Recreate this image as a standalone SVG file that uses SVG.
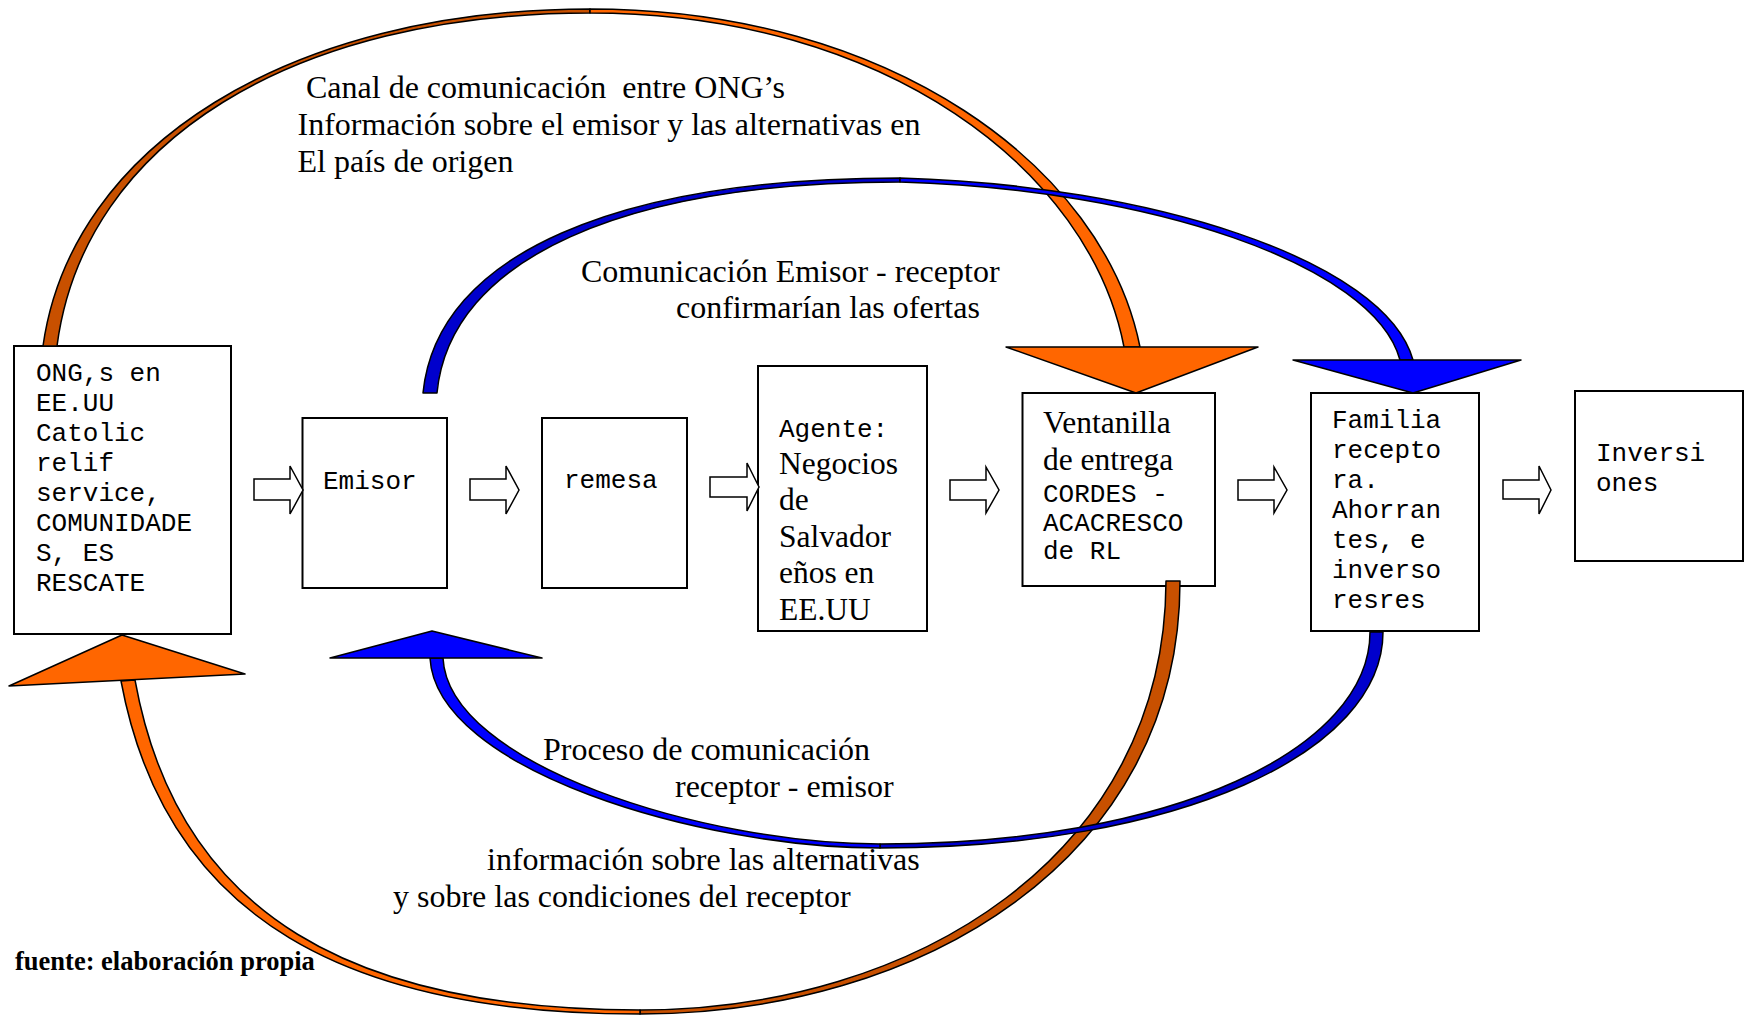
<svg xmlns="http://www.w3.org/2000/svg" width="1751" height="1016" viewBox="0 0 1751 1016">
<style>
.box{fill:#fff;stroke:#000;stroke-width:2}
.mono{font-family:"Liberation Mono","Courier New",monospace;font-size:26px;fill:#000}
.serif{font-family:"Liberation Serif","Times New Roman",serif;font-size:32px;fill:#000}
.bx{font-family:"Liberation Serif","Times New Roman",serif;font-size:31.5px;fill:#000}
.bold{font-family:"Liberation Serif","Times New Roman",serif;font-size:26.5px;font-weight:bold;fill:#000}
.blk{fill:#fff;stroke:#000;stroke-width:1.5;stroke-linejoin:miter}
.rib{stroke:#000;stroke-width:1.5;stroke-linejoin:round}
.od{fill:#C85000}.ob{fill:#FF6600}.bd{fill:#0000CC}.bb{fill:#0000FF}
</style>
<rect width="1751" height="1016" fill="#fff"/>

<g id="node-ong">
<rect class="box" x="14" y="346" width="217" height="288"/>
<text class="mono"><tspan x="36" y="381">ONG,s en</tspan><tspan x="36" y="411">EE.UU</tspan><tspan x="36" y="441">Catolic</tspan><tspan x="36" y="471">relif</tspan><tspan x="36" y="501">service,</tspan><tspan x="36" y="531">COMUNIDADE</tspan><tspan x="36" y="561">S, ES</tspan><tspan x="36" y="591">RESCATE</tspan></text>
</g>
<g id="node-emisor">
<rect class="box" x="302.5" y="418" width="144.5" height="170"/>
<text class="mono" x="323" y="489">Emisor</text>
</g>
<g id="node-remesa">
<rect class="box" x="542" y="418" width="145" height="170"/>
<text class="mono" x="564" y="488">remesa</text>
</g>
<g id="node-agente">
<rect class="box" x="758" y="366" width="169" height="265"/>
<text class="mono" x="779" y="437">Agente:</text>
<text class="bx"><tspan x="779" y="473.5">Negocios</tspan><tspan x="779" y="510">de</tspan><tspan x="779" y="546.5">Salvador</tspan><tspan x="779" y="583">eños en</tspan><tspan x="779" y="619.5">EE.UU</tspan></text>
</g>
<g id="node-ventanilla">
<rect class="box" x="1022.5" y="393" width="192.5" height="193"/>
<text class="bx"><tspan x="1043" y="433">Ventanilla</tspan><tspan x="1043" y="470">de entrega</tspan></text>
<text class="mono"><tspan x="1043" y="502">CORDES -</tspan><tspan x="1043" y="531">ACACRESCO</tspan><tspan x="1043" y="559">de RL</tspan></text>
</g>
<g id="node-familia">
<rect class="box" x="1311" y="393" width="168" height="238"/>
<text class="mono"><tspan x="1332" y="428">Familia</tspan><tspan x="1332" y="458">recepto</tspan><tspan x="1332" y="488">ra.</tspan><tspan x="1332" y="518">Ahorran</tspan><tspan x="1332" y="548">tes, e</tspan><tspan x="1332" y="578">inverso</tspan><tspan x="1332" y="608">resres</tspan></text>
</g>
<g id="node-inversiones">
<rect class="box" x="1575" y="391" width="168" height="170"/>
<text class="mono"><tspan x="1596" y="461">Inversi</tspan><tspan x="1596" y="491">ones</tspan></text>
</g>

<g id="connectors">
<path class="blk" d="M254 479 L290 479 L290 466 L303 490 L290 514 L290 500 L254 500 Z"/>
<path class="blk" d="M470 479 L506 479 L506 466 L519 490 L506 514 L506 500 L470 500 Z"/>
<path class="blk" d="M710 477 L747 477 L747 463 L759 487 L747 511 L747 497 L710 497 Z"/>
<path class="blk" d="M950 480 L986 480 L986 467 L999 490 L986 513 L986 500 L950 500 Z"/>
<path class="blk" d="M1238 480 L1274 480 L1274 467 L1287 490 L1274 513 L1274 500 L1238 500 Z"/>
<path class="blk" d="M1503 480 L1539 480 L1539 466 L1551 490 L1539 514 L1539 499 L1503 499 Z"/>

<g id="orange-top">
<path class="rib od" d="M43 346 C71 146 290 9 590 9 L590 13 C295 13 84 140 57 346 Z"/>
<path class="rib ob" d="M590 9 C890 9 1104 167 1140 347 L1124 347 C1090 170 885 13 590 13 Z"/>
<polygon class="rib ob" points="1006,347 1258,347 1136,393"/>
</g>
<g id="orange-bottom">
<path class="rib od" d="M1180 581 C1180 860 920 1014 640 1014 L640 1010 C915 1010 1165 855 1166 581 Z"/>
<path class="rib ob" d="M640 1014 C352 1014 166 922 121 681 L135 680 C178 918 357 1010 640 1010 Z"/>
<polygon class="rib ob" points="9,686 122,635 245,674"/>
</g>
<g id="blue-top">
<path class="rib bd" d="M423 393 C437 253 620 178 900 178 L900 182 C625 182 450 258 437 393 Z"/>
<path class="rib bb" d="M900 178 C1150 185 1385 260 1413 360 L1400 360 C1374 264 1148 189 900 182 Z"/>
<polygon class="rib bb" points="1293,360 1521,360 1413,393"/>
</g>
<g id="blue-bottom">
<path class="rib bd" d="M1383 632 C1383 752 1180 848 880 848 L880 844 C1175 844 1370 748 1370 632 Z"/>
<path class="rib bb" d="M880 848 C700 848 436 770 430 658 L443 658 C448 765 705 844 880 844 Z"/>
<polygon class="rib bb" points="330,658 432,631 542,658"/>
</g>
</g>

<g id="labels">
<text class="serif" x="306" y="97.5" style="white-space:pre">Canal de comunicación  entre ONG’s</text>
<text class="serif" x="297.5" y="135">Información sobre el emisor y las alternativas en</text>
<text class="serif" x="297.5" y="172">El país de origen</text>
<text class="serif" x="581" y="282">Comunicación Emisor - receptor</text>
<text class="serif" x="676" y="318">confirmarían las ofertas</text>
<text class="serif" x="543" y="760">Proceso de comunicación</text>
<text class="serif" x="675" y="797">receptor - emisor</text>
<text class="serif" x="487" y="870">información sobre las alternativas</text>
<text class="serif" x="393" y="907">y sobre las condiciones del receptor</text>
<text class="bold" x="15" y="970">fuente: elaboración propia</text>
</g>
</svg>
